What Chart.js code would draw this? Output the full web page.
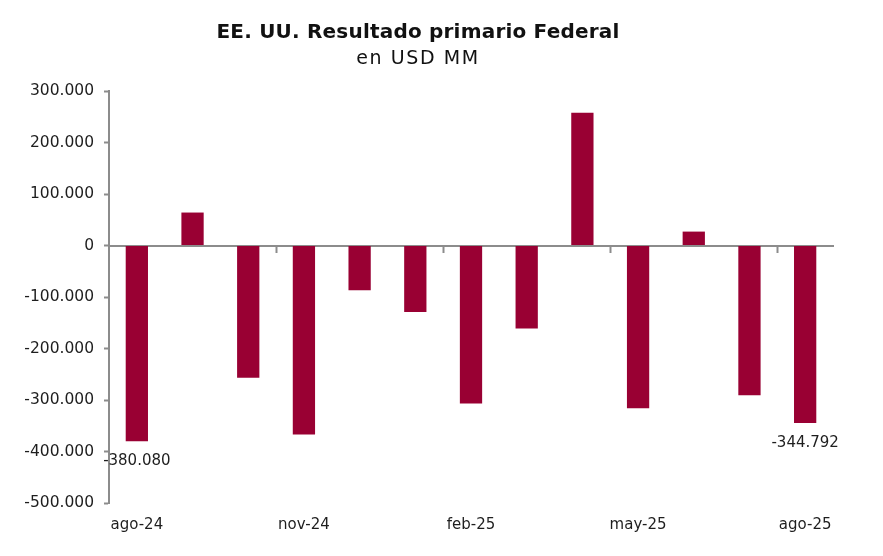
<!DOCTYPE html>
<html>
<head>
<meta charset="utf-8">
<script src="https://cdn.jsdelivr.net/npm/chart.js@4"></script>
<style>
    html, body { margin: 0; padding: 0; background: #fff; }
    #wrap { position: relative; width: 883px; height: 556px; }
    #chart { position: absolute; left: 0; top: 0; }
    .head { position: absolute; left: 0; width: 836px; text-align: center; color: #111; font-family: "DejaVu Sans", sans-serif; white-space: nowrap; }
    #title { top: 19px; font-size: 20px; font-weight: bold; letter-spacing: 0.2px; }
    #subtitle { top: 46px; font-size: 19px; letter-spacing: 1.6px; }
</style>
</head>
<body>
<div id="wrap">
    <canvas id="chart" width="883" height="556"></canvas>
    <div id="title" class="head">EE. UU. Resultado primario Federal</div>
    <div id="subtitle" class="head">en USD MM</div>
</div>
<script>
const months = ['ago-24', 'sep-24', 'oct-24', 'nov-24', 'dic-24', 'ene-25', 'feb-25',
    'mar-25', 'abr-25', 'may-25', 'jun-25', 'jul-25', 'ago-25'];
const balance = [-380080, 64000, -257000, -367000, -87000, -129000, -307000,
    -161000, 258000, -316000, 27000, -291000, -344792];
const yTicks = [300000, 200000, 100000, 0, -100000, -200000, -300000, -400000, -500000];
const labeledIdx = [0, 12];

const AXIS_GREY = '#8c8c8c';
const TEXT = '#1e1e1e';
const FONT = '"DejaVu Sans", sans-serif';

function fmt(v) {
    const s = Math.abs(Math.round(v)).toString().replace(/\B(?=(\d{3})+(?!\d))/g, '.');
    return (v < 0 ? '-' : '') + s;
}

// etichette sotto la prima e l'ultima barra
const valueLabels = {
    id: 'valueLabels',
    afterDatasetsDraw(chart) {
        const ctx = chart.ctx;
        const meta = chart.getDatasetMeta(0);
        ctx.save();
        ctx.font = '15px ' + FONT;
        ctx.fillStyle = TEXT;
        ctx.textAlign = 'center';
        ctx.textBaseline = 'middle';
        labeledIdx.forEach(i => {
            const bar = meta.data[i];
            ctx.fillText(fmt(balance[i]), bar.x, bar.y + 20);
        });
        ctx.restore();
    }
};

const ctx = document.getElementById('chart').getContext('2d');
new Chart(ctx, {
    type: 'bar',
    data: {
        labels: months,
        datasets: [{
            data: balance,
            backgroundColor: '#990033',
            barPercentage: 0.4,
            categoryPercentage: 1,
            xAxisID: 'x'
        }]
    },
    options: {
        responsive: false,
        animation: false,
        layout: { padding: { left: 0, top: 91, right: 50, bottom: 0 } },
        plugins: {
            legend: { display: false },
            tooltip: { enabled: false }
        },
        scales: {
            x: {
                axis: 'x',
                type: 'category',
                position: { y: 0 },
                offset: true,
                z: 1,
                grid: {
                    offset: true,
                    drawOnChartArea: false,
                    drawTicks: true,
                    tickLength: 6,
                    tickWidth: 2,
                    tickColor: c => [3, 6, 9, 12].includes(c.index) ? AXIS_GREY : 'rgba(0,0,0,0)'
                },
                border: { display: true, color: AXIS_GREY, width: 2 },
                ticks: { display: false, autoSkip: false }
            },
            x2: {
                axis: 'x',
                type: 'category',
                position: 'bottom',
                offset: true,
                grid: { display: false, drawTicks: false },
                border: { display: false },
                ticks: {
                    autoSkip: false,
                    maxRotation: 0,
                    padding: 13,
                    color: TEXT,
                    font: { family: FONT, size: 15 },
                    callback: (v, i) => i % 3 === 0 ? months[i] : ''
                },
                afterFit: s => { s.height = 53; }
            },
            y: {
                min: -500000,
                max: 300000,
                grid: {
                    drawOnChartArea: false,
                    drawTicks: true,
                    tickLength: 5,
                    tickWidth: 2,
                    color: AXIS_GREY
                },
                border: { display: true, color: AXIS_GREY, width: 2 },
                afterBuildTicks: s => { s.ticks = yTicks.map(v => ({ value: v })); },
                ticks: {
                    padding: 10,
                    color: TEXT,
                    font: { family: FONT, size: 15.5 },
                    callback: v => fmt(v)
                },
                afterFit: s => { s.width = 109; }
            }
        }
    },
    plugins: [valueLabels]
});
</script>
</body>
</html>
